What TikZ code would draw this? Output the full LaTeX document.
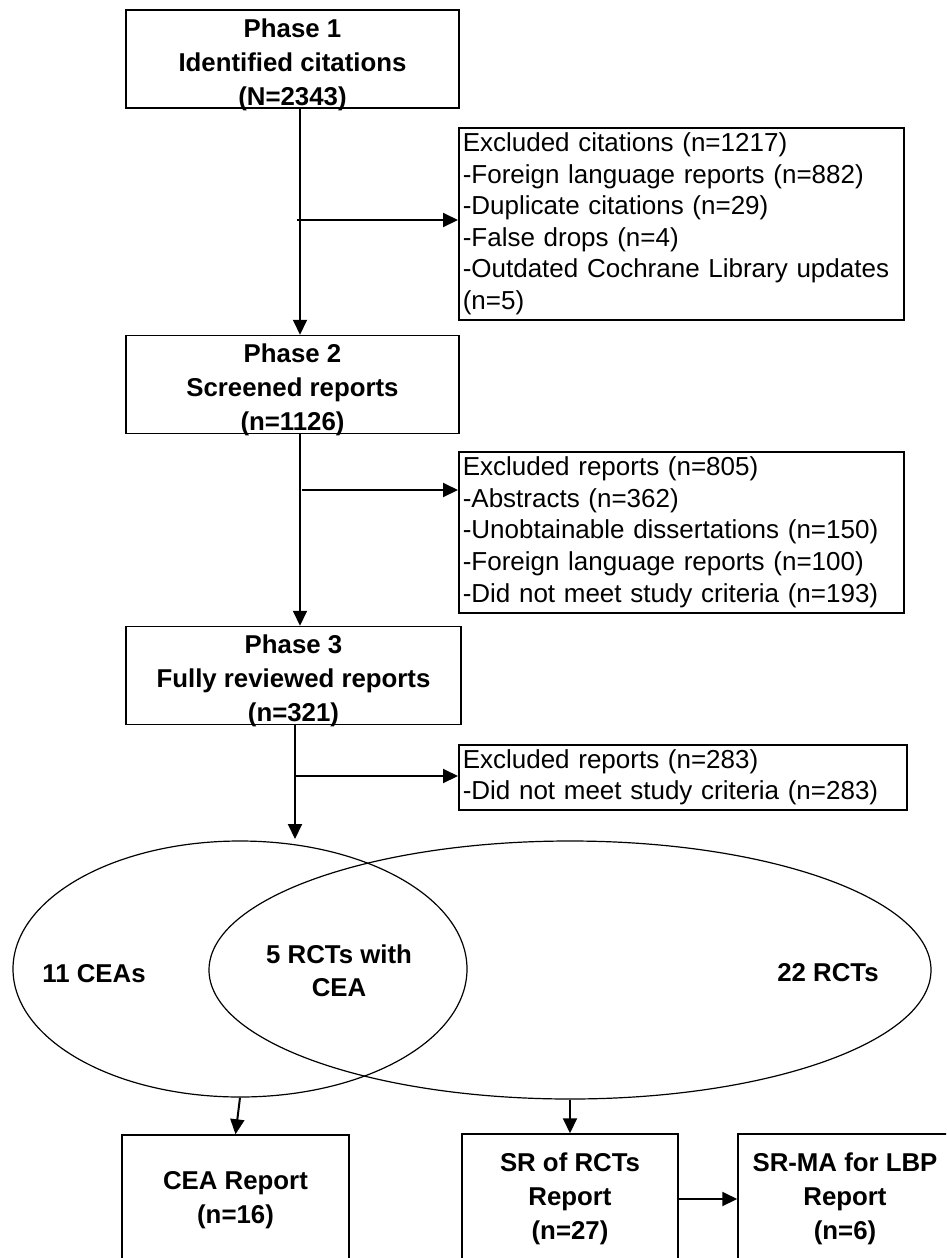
\documentclass[tikz,border=0pt]{standalone}
\usepackage{fontspec}
\setmainfont{Liberation Sans}
\usetikzlibrary{arrows.meta,shapes.geometric}
\begin{document}
\begin{tikzpicture}[x=1pt,y=-1pt,
  phasebox/.style={draw,line width=1.5pt,minimum width=333pt,minimum height=98pt,inner sep=0pt,text height=92pt,text depth=0pt,align=center,font=\fontsize{25.8pt}{34pt}\selectfont\bfseries},
  exclbox/.style={draw,line width=1.5pt,anchor=north west,inner xsep=4pt,inner ysep=0pt,text width=437pt,align=left,font=\fontsize{26pt}{31.6pt}\selectfont},
  repbox/.style={draw,line width=1.5pt,minimum height=130pt,inner sep=0pt,align=center,font=\fontsize{25.8pt}{34pt}\selectfont\bfseries},
  venn/.style={draw,ellipse,line width=1.2pt,inner sep=0pt},
  lbl/.style={align=center,font=\fontsize{25.8pt}{33pt}\selectfont\bfseries},
  arr/.style={line width=2pt,-{Triangle[length=15pt,width=14pt]}}]
\useasboundingbox (0,0) rectangle (946,1258);
\clip (0,0) rectangle (946,1258);
\node[phasebox] (phase1) at (292.5,59) {Phase 1\\Identified citations\\(N=2343)};
\node[phasebox] (phase2) at (292.5,384.5) {Phase 2\\Screened reports\\(n=1126)};
\node[phasebox,minimum width=335pt] (phase3) at (293.5,675.5) {Phase 3\\Fully reviewed reports\\(n=321)};
\node[exclbox,minimum height=192pt] (excl1) at (458,127) {Excluded citations (n=1217)\\-Foreign language reports (n=882)\\-Duplicate citations (n=29)\\-False drops (n=4)\\-Outdated Cochrane Library updates\\(n=5)};
\node[exclbox,minimum height=161pt] (excl2) at (458,451) {Excluded reports (n=805)\\-Abstracts (n=362)\\-Unobtainable dissertations (n=150)\\-Foreign language reports (n=100)\\-Did not meet study criteria (n=193)};
\node[exclbox,minimum height=65pt,text width=440pt] (excl3) at (458,744) {Excluded reports (n=283)\\-Did not meet study criteria (n=283)};
\node[venn,minimum width=454pt,minimum height=256pt] (cea) at (240,969) {};
\node[venn,minimum width=722pt,minimum height=258pt] (rct) at (570,970) {};
\node[lbl] (ceatxt) at (94,974) {11 CEAs};
\node[lbl] (bothtxt) at (339,971) {5 RCTs with\\CEA};
\node[lbl] (rcttxt) at (828,973) {22 RCTs};
\node[repbox,minimum width=227pt] (ceabox) at (235.5,1200) {CEA Report\\(n=16)};
\node[repbox,minimum width=216pt] (srbox) at (570,1199) {SR of RCTs\\Report\\(n=27)};
\node[repbox,minimum width=214pt] (srmabox) at (845,1199) {SR-MA for LBP\\Report\\(n=6)};
\coordinate (b1) at (297,220);
\coordinate (b2) at (302,490);
\coordinate (b3) at (295,776);
\coordinate (venntop) at (295,839);
\draw[arr] ([xshift=7.5pt]phase1.south) -- ([xshift=7.5pt]phase2.north);
\draw[arr] (b1) -- (b1 -| excl1.west);
\draw[arr] ([xshift=7.5pt]phase2.south) -- ([xshift=7.5pt]phase2.south |- phase3.north);
\draw[arr] (b2) -- (b2 -| excl2.west);
\draw[arr] ([xshift=1.5pt]phase3.south) -- (venntop);
\draw[arr] (b3) -- (b3 -| excl3.west);
\draw[arr] (cea.south) -- (ceabox.north);
\draw[arr] (rct.south) -- (srbox.north);
\draw[arr] (srbox.east) -- (srmabox.west);
\end{tikzpicture}
\end{document}
